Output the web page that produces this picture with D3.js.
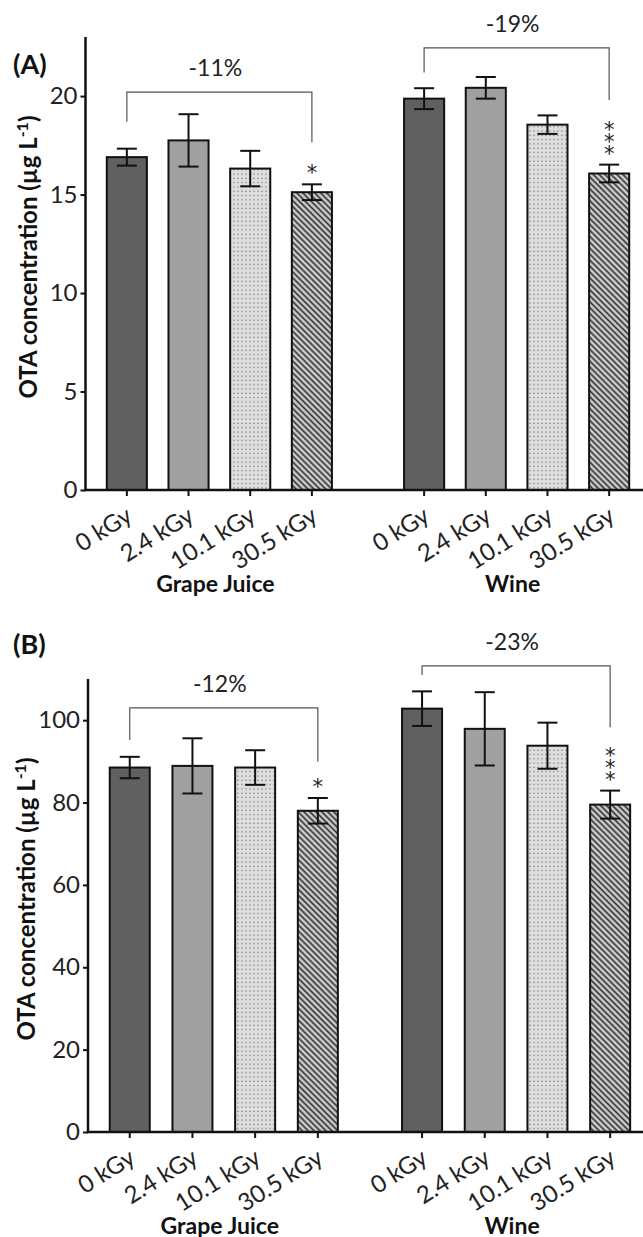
<!DOCTYPE html>
<html>
<head>
<meta charset="utf-8">
<script src="https://cdn.jsdelivr.net/npm/d3@7"></script>
<style>
  body { margin: 0; background: #fff; }
  svg { display: block; font-family: Lato, "Open Sans", sans-serif; }
</style>
</head>
<body>
<div id="chart"></div>
<script>
// categories
const doses = ["0 kGy", "2.4 kGy", "10.1 kGy", "30.5 kGy"];
const matrices = ["Grape Juice", "Wine"];

// panel A (µg/L)
const ticksA = [0, 5, 10, 15, 20];
const juiceA = [16.9, 17.75, 16.32, 15.12];
const juiceSdA = [0.43, 1.33, 0.9, 0.4];
const wineA = [19.87, 20.42, 18.55, 16.07];
const wineSdA = [0.53, 0.55, 0.47, 0.45];
const reductionA = ["-11%", "-19%"];
// bracket: [level, left end, right end] in data units
const bracketA = [[20.2, 18.7, 17.65], [22.45, 21.2, 19.8]];

// panel B (µg/L)
const ticksB = [0, 20, 40, 60, 80, 100];
const juiceB = [88.5, 88.9, 88.5, 78.0];
const juiceSdB = [2.6, 6.7, 4.2, 3.1];
const wineB = [102.8, 97.9, 93.8, 79.5];
const wineSdB = [4.2, 8.9, 5.6, 3.4];
const reductionB = ["-12%", "-23%"];
const bracketB = [[103, 95.2, 89.9], [113.2, 111, 98.3]];

// significance marks per dose
const starsJuice = ["", "", "", "*"];
const starsWine = ["", "", "", "***"];

const width = 643, height = 1237;

const svg = d3.select('#chart').append('svg')
    .attr('width', width)
    .attr('height', height);

const defs = svg.append('defs');

const dots = defs.append('pattern')
    .attr('id', 'dots')
    .attr('patternUnits', 'userSpaceOnUse')
    .attr('width', 4).attr('height', 4.3);
dots.append('rect').attr('width', 4).attr('height', 4.3).attr('fill', '#dedede');
dots.append('circle').attr('cx', 2).attr('cy', 2).attr('r', 0.7).attr('fill', '#6a6a6a');

const hatch = defs.append('pattern')
    .attr('id', 'hatch')
    .attr('patternUnits', 'userSpaceOnUse')
    .attr('width', 4.2).attr('height', 4.2)
    .attr('patternTransform', 'rotate(-45)');
hatch.append('rect').attr('width', 4.2).attr('height', 4.2).attr('fill', '#d0d0d0');
hatch.append('line').attr('x1', 2.1).attr('y1', 0).attr('x2', 2.1).attr('y2', 4.2)
    .attr('stroke', '#333').attr('stroke-width', 1.7);

const fills = ['#606060', '#a0a0a0', 'url(#dots)', 'url(#hatch)'];

const panels = [
  { label: '(A)', labelY: 74, top: 37, bottom: 490, axisX: 85.5, xRange: [96, 640],
    outerPad: 0.17, innerPad: 0.35, domain: [0, 23], ticks: ticksA,
    means: [juiceA, wineA], sds: [juiceSdA, wineSdA], reduction: reductionA, brackets: bracketA,
    groupLabelY: 592, titleX: 37, titleY: 257 },
  { label: '(B)', labelY: 654, top: 679, bottom: 1132, axisX: 88, xRange: [98.4, 641.5],
    outerPad: 0.142, innerPad: 0.362, domain: [0, 110], ticks: ticksB,
    means: [juiceB, wineB], sds: [juiceSdB, wineSdB], reduction: reductionB, brackets: bracketB,
    groupLabelY: 1234, titleX: 35, titleY: 899 }
];

const stars = [starsJuice, starsWine];

panels.forEach(p => {
  const g = svg.append('g');

  const y = d3.scaleLinear().domain(p.domain).range([p.bottom, p.top]);
  const outer = d3.scaleBand().domain(matrices).range(p.xRange).paddingInner(p.outerPad);
  const inner = d3.scaleBand().domain(doses).range([0, outer.bandwidth()])
      .paddingInner(p.innerPad).paddingOuter(p.innerPad / 2);
  const cx = (m, d) => outer(m) + inner(d) + inner.bandwidth() / 2;

  const rows = [];
  matrices.forEach((m, mi) => doses.forEach((d, di) => rows.push({
    m, d, di, mean: p.means[mi][di], sd: p.sds[mi][di], star: stars[mi][di]
  })));

  // bars
  g.append('g')
    .selectAll('rect')
    .data(rows)
    .join('rect')
      .attr('x', r => outer(r.m) + inner(r.d))
      .attr('y', r => y(r.mean))
      .attr('width', inner.bandwidth())
      .attr('height', r => y(0) - y(r.mean))
      .attr('fill', r => fills[r.di])
      .attr('stroke', '#111')
      .attr('stroke-width', 2);

  // error bars
  const eb = g.append('g')
      .attr('stroke', '#111')
      .attr('stroke-width', 2)
    .selectAll('g')
    .data(rows)
    .join('g');
  eb.append('line')
      .attr('x1', r => cx(r.m, r.d)).attr('x2', r => cx(r.m, r.d))
      .attr('y1', r => y(r.mean + r.sd)).attr('y2', r => y(r.mean - r.sd));
  eb.append('line')
      .attr('x1', r => cx(r.m, r.d) - 10).attr('x2', r => cx(r.m, r.d) + 10)
      .attr('y1', r => y(r.mean + r.sd)).attr('y2', r => y(r.mean + r.sd));
  eb.append('line')
      .attr('x1', r => cx(r.m, r.d) - 10).attr('x2', r => cx(r.m, r.d) + 10)
      .attr('y1', r => y(r.mean - r.sd)).attr('y2', r => y(r.mean - r.sd));

  // asterisks, stacked upward
  rows.filter(r => r.star).forEach(r => {
    const n = r.star.length;
    const base = y(r.mean + r.sd) - 16;
    for (let k = 0; k < n; k++) {
      g.append('text')
          .attr('x', cx(r.m, r.d))
          .attr('y', base - k * 12 + 12)
          .attr('text-anchor', 'middle')
          .attr('font-family', '"DejaVu Sans", sans-serif')
          .attr('font-size', 21)
          .attr('fill', '#222')
          .text('*');
    }
  });

  // brackets
  matrices.forEach((m, mi) => {
    const b = p.brackets[mi];
    const x1 = cx(m, doses[0]), x2 = cx(m, doses[3]);
    g.append('path')
        .attr('d', `M${x1},${y(b[1])}V${y(b[0])}H${x2}V${y(b[2])}`)
        .attr('fill', 'none')
        .attr('stroke', '#555')
        .attr('stroke-width', 1.2);
    g.append('text')
        .attr('x', (x1 + x2) / 2 - 4)
        .attr('y', y(b[0]) - 16)
        .attr('text-anchor', 'middle')
        .attr('font-size', 23)
        .attr('fill', '#222')
        .text(p.reduction[mi]);
  });

  // y axis
  const yAxis = g.append('g')
      .attr('transform', `translate(${p.axisX},0)`)
      .call(d3.axisLeft(y).tickValues(p.ticks).tickSize(5).tickSizeOuter(0).tickPadding(3));
  yAxis.select('.domain').attr('stroke', '#111').attr('stroke-width', 2.5)
      .attr('d', `M0,${p.top}V${p.bottom + 1}`);
  yAxis.selectAll('.tick line').attr('stroke', '#111').attr('stroke-width', 2);
  yAxis.selectAll('.tick text')
      .attr('font-family', 'Lato, sans-serif')
      .attr('font-size', 24)
      .attr('fill', '#222');

  // x axis
  g.append('line')
      .attr('x1', p.axisX - 1).attr('x2', width)
      .attr('y1', y(0)).attr('y2', y(0))
      .attr('stroke', '#111').attr('stroke-width', 2.5);
  g.append('g')
    .selectAll('line')
    .data(rows)
    .join('line')
      .attr('x1', r => cx(r.m, r.d)).attr('x2', r => cx(r.m, r.d))
      .attr('y1', y(0)).attr('y2', y(0) + 6)
      .attr('stroke', '#111').attr('stroke-width', 2);

  g.append('g')
    .selectAll('text')
    .data(rows)
    .join('text')
      .attr('transform', r => `translate(${cx(r.m, r.d) + 7},${y(0) + 30}) rotate(-32)`)
      .attr('text-anchor', 'end')
      .attr('font-size', 24)
      .attr('fill', '#222')
      .text(r => r.d);

  g.append('g')
    .selectAll('text')
    .data(matrices)
    .join('text')
      .attr('x', m => outer(m) + outer.bandwidth() / 2 - 4)
      .attr('y', p.groupLabelY)
      .attr('text-anchor', 'middle')
      .attr('font-size', 23)
      .attr('font-weight', 'bold')
      .attr('fill', '#111')
      .text(m => m);

  // y title
  const title = g.append('text')
      .attr('transform', `translate(${p.titleX},${p.titleY}) rotate(-90)`)
      .attr('text-anchor', 'middle')
      .attr('font-size', 24)
      .attr('font-weight', 'bold')
      .attr('fill', '#111');
  title.append('tspan').text('OTA concentration (µg L');
  title.append('tspan').attr('font-size', 16).attr('dy', -9).text('-1');
  title.append('tspan').attr('dy', 9).text(')');

  // panel label
  g.append('text')
      .attr('x', 13)
      .attr('y', p.labelY)
      .attr('font-size', 27)
      .attr('font-weight', 'bold')
      .attr('fill', '#111')
      .text(p.label);
});
</script>
</body>
</html>
